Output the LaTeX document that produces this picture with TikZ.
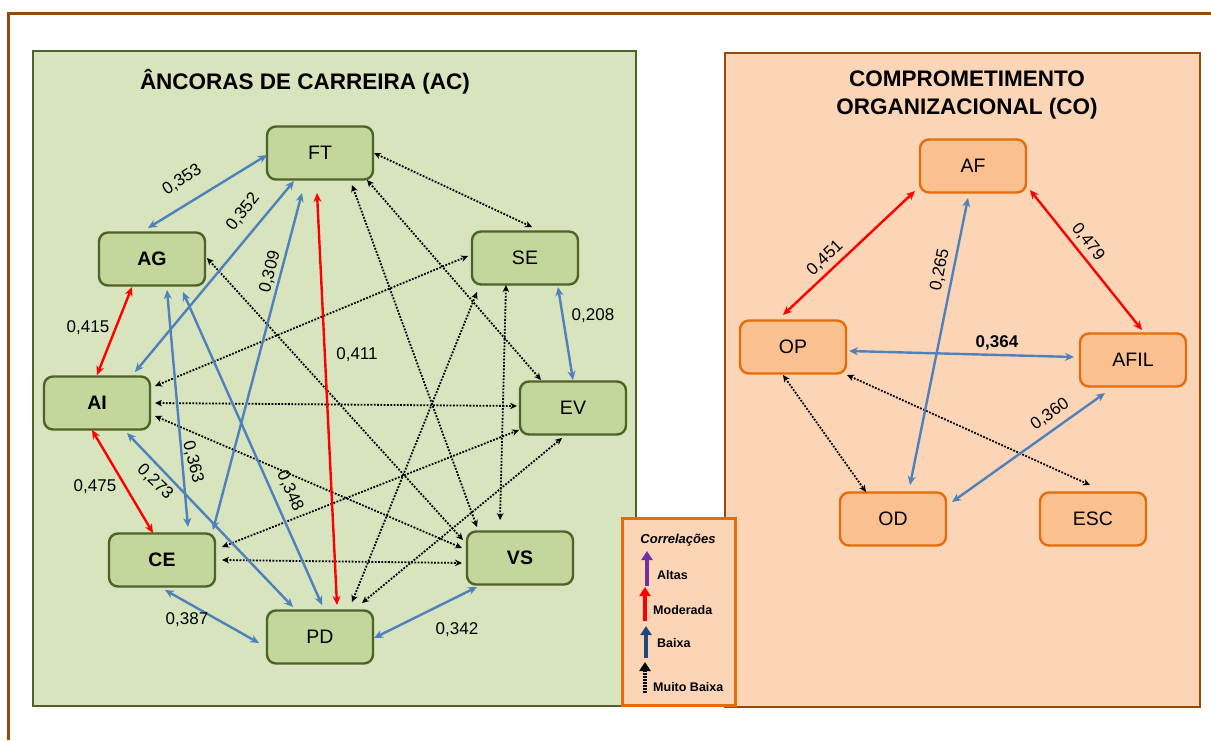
\documentclass[tikz,border=0pt]{standalone}
\usepackage{fontspec}
\setmainfont{Liberation Sans}
\usetikzlibrary{arrows.meta}

\definecolor{acfill}{HTML}{D7E4BD}
\definecolor{acnode}{HTML}{C3D69B}
\definecolor{acline}{HTML}{4F6228}
\definecolor{cofill}{HTML}{FBD5B5}
\definecolor{conode}{HTML}{FAC090}
\definecolor{coline}{HTML}{E46C0A}
\definecolor{frbrown}{HTML}{984807}
\definecolor{lowblue}{HTML}{4F81BD}
\definecolor{navyblue}{HTML}{1F497D}
\definecolor{hipurple}{HTML}{7030A0}

\tikzset{
  acbox/.style={draw=acline, fill=acnode, line width=2.4pt, rounded corners=9pt,
    minimum width=106pt, minimum height=53pt, inner sep=0pt,
    font=\fontsize{19.5}{22}\selectfont},
  cobox/.style={acbox, draw=coline, fill=conode},
  tipb/.tip={Stealth[length=9pt,width=8pt]},
  tipd/.tip={Stealth[length=7pt,width=6.5pt]},
  low/.style={draw=lowblue, line width=2.4pt, tipb-tipb},
  moder/.style={draw=red, line width=2.4pt, tipb-tipb},
  vlow/.style={draw=black, line width=1.8pt, dash pattern=on 1.8pt off 1.5pt, tipd-tipd},
  val/.style={font=\fontsize{17}{20}\selectfont, inner sep=0pt},
  ttl/.style={font=\fontsize{22.5}{28}\selectfont\bfseries, align=center, inner sep=0pt},
  legtxt/.style={font=\fontsize{12.5}{14}\selectfont\bfseries, anchor=west, inner sep=0pt},
  legarrow/.style={line width=4pt, -{Triangle[length=9pt,width=11pt]}},
}

\begin{document}
\begin{tikzpicture}[x=1pt, y=-1pt]
\useasboundingbox[fill=white] (0,0) rectangle (1211,740);

% outer frame
\draw[frbrown, line width=3pt] (8,740) -- (8,13) -- (1211,13);

% panels
\node[draw=acline, fill=acfill, line width=2pt, minimum width=603pt, minimum height=655pt,
      inner sep=0pt] (acpanel) at (334.5,378.5) {};
\node[draw=frbrown, fill=cofill, line width=2pt, minimum width=475pt, minimum height=654pt,
      inner sep=0pt] (copanel) at (962.5,380) {};

% titles
\node[ttl] (actitle) at (305,82) {ÂNCORAS DE CARREIRA (AC)};
\node[ttl] (cotitle) at (967,95) {COMPROMETIMENTO\\ORGANIZACIONAL (CO)};

% career anchors
\node[acbox] (FT) at (320,153) {FT};
\node[acbox, font=\fontsize{19.5}{22}\selectfont\bfseries] (AG) at (152,259) {AG};
\node[acbox] (SE) at (525,258) {SE};
\node[acbox, font=\fontsize{19.5}{22}\selectfont\bfseries] (AI) at (97,403) {AI};
\node[acbox] (EV) at (573,408) {EV};
\node[acbox, font=\fontsize{19.5}{22}\selectfont\bfseries] (CE) at (162,560) {CE};
\node[acbox, font=\fontsize{19.5}{22}\selectfont\bfseries] (VS) at (520,558) {VS};
\node[acbox] (PD) at (320,637) {PD};

% organizational commitment
\node[cobox] (AF) at (973,166) {AF};
\node[cobox] (OP) at (793,347) {OP};
\node[cobox] (AFIL) at (1133,360) {AFIL};
\node[cobox] (OD) at (893,519) {OD};
\node[cobox] (ESC) at (1093,519) {ESC};

% very low correlations (career anchors)
\draw[vlow] ([shift={(54,0)}]FT.center) -- ([shift={(7,-31)}]SE.center);
\draw[vlow] ([shift={(47,27)}]FT.center) -- ([shift={(-32,-28)}]EV.center);
\draw[vlow] ([shift={(32,32)}]FT.center) -- ([shift={(-43,-31)}]VS.center);
\draw[vlow] ([shift={(55,-1)}]AG.center) -- ([shift={(-57,-18)}]VS.center);
\draw[vlow] ([shift={(58,-17)}]AI.center) -- ([shift={(-57,-2)}]SE.center);
\draw[vlow] ([shift={(58,0)}]AI.center) -- ([shift={(-56,-2)}]EV.center);
\draw[vlow] ([shift={(58,13)}]AI.center) -- ([shift={(-58,-10)}]VS.center);
\draw[vlow] ([shift={(60,-13)}]CE.center) -- ([shift={(-54,22)}]EV.center);
\draw[vlow] ([shift={(60,0)}]CE.center) -- ([shift={(-58,5)}]VS.center);
\draw[vlow] ([shift={(-19,27)}]SE.center) -- ([shift={(-20,-38)}]VS.center);
\draw[vlow] ([shift={(32,-35)}]PD.center) -- ([shift={(-48,34)}]SE.center);
\draw[vlow] ([shift={(42,-34)}]PD.center) -- ([shift={(-11,30)}]EV.center);

% low correlations (career anchors)
\draw[low] ([shift={(-53,2)}]FT.center) -- ([shift={(-4,-31)}]AG.center);
\draw[low] ([shift={(-26,28)}]FT.center) -- ([shift={(38,-31)}]AI.center);
\draw[low] ([shift={(-18,40)}]FT.center) -- ([shift={(51,-30)}]CE.center);
\draw[low] ([shift={(15,31)}]AG.center) -- ([shift={(26,-33)}]CE.center);
\draw[low] ([shift={(31,33)}]AG.center) -- ([shift={(2,-32)}]PD.center);
\draw[low] ([shift={(30,30)}]AI.center) -- ([shift={(-27,-30)}]PD.center);
\draw[low] ([shift={(3,30)}]CE.center) -- ([shift={(-61,6)}]PD.center);
\draw[low] ([shift={(54,1)}]PD.center) -- ([shift={(-43,29)}]VS.center);
\draw[low] ([shift={(33,29)}]SE.center) -- ([shift={(0,-28)}]EV.center);

% moderate correlations (career anchors)
\draw[moder] ([shift={(-20,28)}]AG.center) -- ([shift={(0,-28)}]AI.center);
\draw[moder] ([shift={(-5,27)}]AI.center) -- ([shift={(-9,-27)}]CE.center);
\draw[moder] ([shift={(-3,40)}]FT.center) -- ([shift={(17,-32)}]PD.center);

% values (career anchors)
\node[val, rotate=33] (v353) at (182,180) {0,353};
\node[val, rotate=52] (v352) at (243,212) {0,352};
\node[val, rotate=76] (v309) at (270,272) {0,309};
\node[val, rotate=-76] (v363) at (193,462) {0,363};
\node[val, rotate=-66] (v348) at (290,491) {0,348};
\node[val, rotate=-44] (v273) at (155,482) {0,273};
\node[val] (v387) at (187,620) {0,387};
\node[val] (v342) at (457,630) {0,342};
\node[val] (v208) at (593,316) {0,208};
\node[val] (v415) at (88,328) {0,415};
\node[val] (v475) at (95,487) {0,475};
\node[val] (v411) at (357,355) {0,411};

% organizational commitment links
\draw[vlow] ([shift={(-10,28)}]OP.center) -- ([shift={(-27,-27)}]OD.center);
\draw[vlow] ([shift={(54,28)}]OP.center) -- ([shift={(-3,-34)}]ESC.center);
\draw[moder] ([shift={(-58,25)}]AF.center) -- ([shift={(-10,-32)}]OP.center);
\draw[moder] ([shift={(57,24)}]AF.center) -- ([shift={(9,-30)}]AFIL.center);
\draw[low] ([shift={(-5,32)}]AF.center) -- ([shift={(17,-34)}]OD.center);
\draw[low] ([shift={(56,4)}]OP.center) -- ([shift={(-59,-3)}]AFIL.center);
\draw[low] ([shift={(59,-17)}]OD.center) -- ([shift={(-28,33)}]AFIL.center);

\node[val, rotate=43] (v451) at (825,258) {0,451};
\node[val, rotate=-52] (v479) at (1088,242) {0,479};
\node[val, rotate=79] (v265) at (940,270) {0,265};
\node[val, font=\fontsize{17}{20}\selectfont\bfseries] (v364) at (997,343) {0,364};
\node[val, rotate=35] (v360) at (1050,414) {0,360};

% legend
\node[draw=coline, fill=cofill, line width=3pt, minimum width=113pt, minimum height=187pt,
      inner sep=0pt] (legend) at (678.5,611.5) {};
\node[font=\fontsize{13}{15}\selectfont\bfseries\itshape, inner sep=0pt] (legtitle) at (678,540) {Correlações};
\draw[legarrow, hipurple] (647,586) -- (647,551);
\draw[legarrow, red] (645,621) -- (645,587);
\draw[legarrow, navyblue] (646,658) -- (646,626);
\draw[legarrow, black, dash pattern=on 2pt off 1pt] (645,693) -- (645,662);
\node[legtxt] (altas) at (657,575) {Altas};
\node[legtxt] (moderada) at (653,610) {Moderada};
\node[legtxt] (baixa) at (657,643) {Baixa};
\node[legtxt] (muitobaixa) at (653,687) {Muito Baixa};
\end{tikzpicture}
\end{document}
